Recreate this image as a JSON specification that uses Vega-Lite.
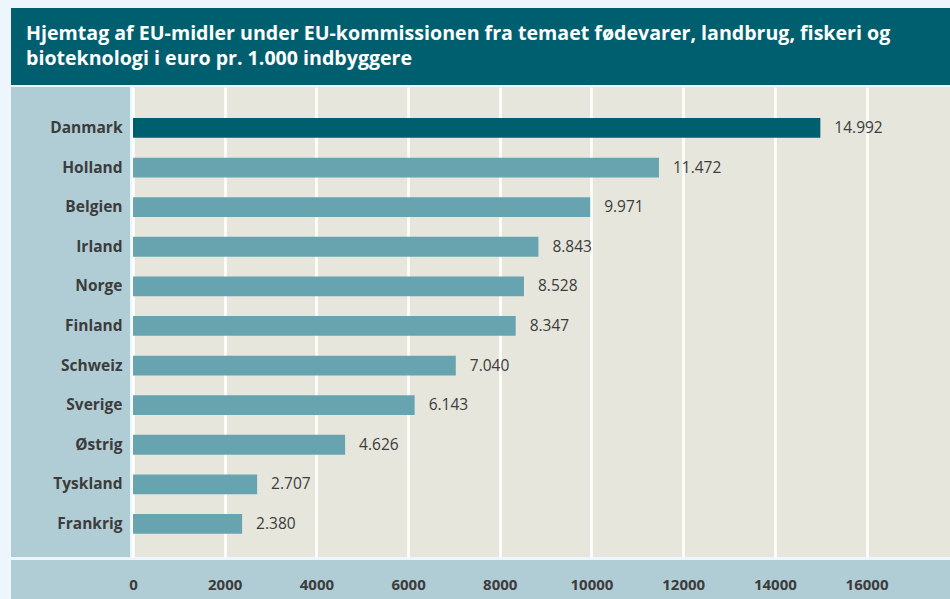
{
  "$schema": "https://vega.github.io/schema/vega-lite/v6.json",
  "background": "#eef6fd",
  "padding": {"left": 11, "top": 8, "right": 0, "bottom": 0},
  "config": {
    "view": {"stroke": null},
    "font": "Open Sans",
    "locale": {"number": {"decimal": ",", "thousands": ".", "grouping": [3], "currency": ["", " kr."]}}
  },
  "data": {"values": [
    {"land": "Danmark", "value": 14992},
    {"land": "Holland", "value": 11472},
    {"land": "Belgien", "value": 9971},
    {"land": "Irland", "value": 8843},
    {"land": "Norge", "value": 8528},
    {"land": "Finland", "value": 8347},
    {"land": "Schweiz", "value": 7040},
    {"land": "Sverige", "value": 6143},
    {"land": "Østrig", "value": 4626},
    {"land": "Tyskland", "value": 2707},
    {"land": "Frankrig", "value": 2380}
  ]},
  "spacing": 2,
  "vconcat": [
    {
      "width": 939,
      "height": 77,
      "view": {"fill": "#005f6e", "stroke": null},
      "title": {
        "text": ["Hjemtag af EU-midler under EU-kommissionen fra temaet fødevarer, landbrug, fiskeri og", "bioteknologi i euro pr. 1.000 indbyggere"],
        "anchor": "start",
        "frame": "group",
        "orient": "top",
        "offset": -62,
        "dx": 15,
        "lineHeight": 25,
        "font": "Open Sans",
        "fontWeight": "bold",
        "fontSize": 19.6,
        "color": "#ffffff"
      },
      "mark": {"type": "point", "opacity": 0}
    },
    {
      "spacing": 3,
      "vconcat": [
        {
          "spacing": 3,
          "hconcat": [
            {
              "width": 119,
              "height": 470,
              "view": {"fill": "#b0ccd5", "stroke": null},
              "mark": {"type": "point", "opacity": 0},
              "encoding": {
                "y": {
                  "field": "land", "type": "nominal", "sort": null,
                  "scale": {"type": "band", "paddingInner": 0.5, "paddingOuter": 0.684, "align": 0.573},
                  "axis": {
                    "title": null, "orient": "left", "offset": -111,
                    "domain": false, "ticks": false, "labelPadding": 0,
                    "labelFont": "Open Sans", "labelFontWeight": "bold", "labelFontSize": 15.5,
                    "labelColor": "#3c3c3c", "labelLimit": 200
                  }
                }
              }
            },
            {
              "width": 817,
              "height": 470,
              "view": {"fill": "#e6e6dc", "stroke": null},
              "encoding": {
                "y": {
                  "field": "land", "type": "nominal", "sort": null,
                  "scale": {"type": "band", "paddingInner": 0.5, "paddingOuter": 0.684, "align": 0.573},
                  "axis": null
                },
                "x": {
                  "field": "value", "type": "quantitative",
                  "scale": {"domain": [0, 17820], "nice": false},
                  "axis": {
                    "title": null, "labels": false, "ticks": false, "domain": false,
                    "grid": true, "gridColor": "#ffffff", "gridWidth": 2.5, "gridOpacity": 1,
                    "values": [0, 2000, 4000, 6000, 8000, 10000, 12000, 14000, 16000]
                  }
                }
              },
              "layer": [
                {
                  "mark": {"type": "bar"},
                  "encoding": {
                    "color": {
                      "condition": {"test": "datum.land === 'Danmark'", "value": "#005f6e"},
                      "value": "#68a4b0"
                    }
                  }
                },
                {
                  "mark": {"type": "text", "align": "left", "baseline": "middle", "dx": 14, "font": "Open Sans", "fontSize": 15.5, "color": "#3c3c3c"},
                  "encoding": {
                    "text": {"field": "value", "type": "quantitative", "format": ","}
                  }
                }
              ]
            }
          ]
        },
        {
          "spacing": 0,
          "bounds": "flush",
          "hconcat": [
            {
              "width": 122,
              "height": 39,
              "view": {"fill": "#b0ccd5", "stroke": null},
              "mark": {"type": "point", "opacity": 0}
            },
            {
              "width": 817,
              "height": 39,
              "view": {"fill": "#b0ccd5", "stroke": null},
              "mark": {"type": "tick", "opacity": 0},
              "encoding": {
                "x": {
                  "field": "value", "type": "quantitative",
                  "scale": {"domain": [0, 17820], "nice": false},
                  "axis": {
                    "title": null, "orient": "bottom", "offset": -15,
                    "domain": false, "ticks": false, "grid": false,
                    "labelPadding": 0, "labelBaseline": "middle",
                    "labelFlush": false, "labelOverlap": false,
                    "labelFont": "Open Sans", "labelFontWeight": "bold", "labelFontSize": 15,
                    "labelColor": "#3c3c3c", "format": "d",
                    "values": [0, 2000, 4000, 6000, 8000, 10000, 12000, 14000, 16000]
                  }
                }
              }
            }
          ]
        }
      ]
    }
  ]
}
